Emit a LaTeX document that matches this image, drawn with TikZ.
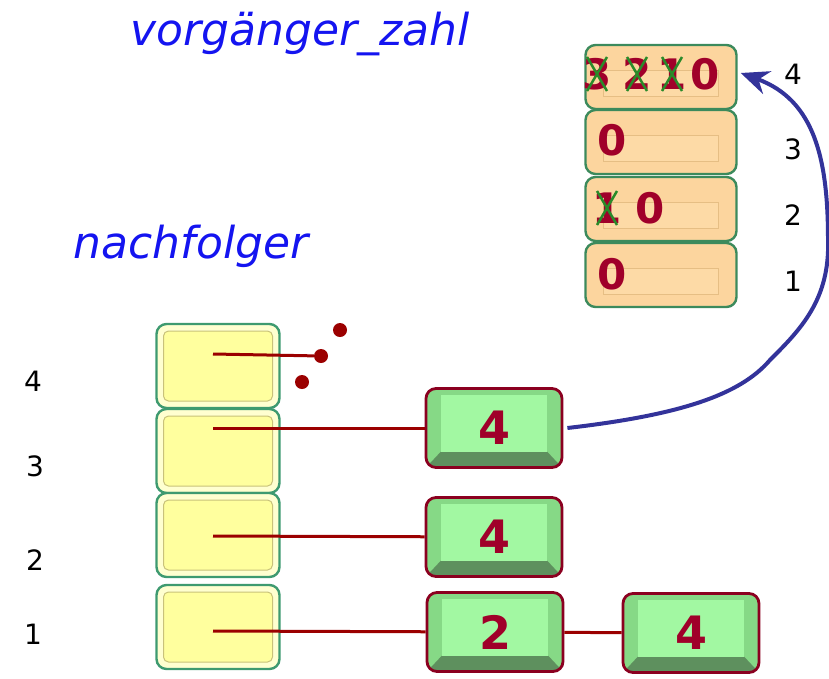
\documentclass[tikz,border=0pt]{standalone}
\usepackage{fontspec}
\setmainfont{DejaVu Sans}
\usetikzlibrary{arrows.meta}
\definecolor{titleblue}{HTML}{1414F0}
\definecolor{numred}{HTML}{A0002A}
\definecolor{linered}{HTML}{9B0000}
\definecolor{xgreen}{HTML}{2A8A2A}
\definecolor{arrowblue}{HTML}{33339A}
\definecolor{yedge}{HTML}{3E9A70}
\definecolor{yout}{HTML}{FFFFD0}
\definecolor{yin}{HTML}{FFFF9E}
\definecolor{yinline}{HTML}{C9C27A}
\definecolor{oedge}{HTML}{3C8A5C}
\definecolor{oout}{HTML}{FCD59E}
\definecolor{oin}{HTML}{FDDAA6}
\definecolor{oinline}{HTML}{E6BE84}
\definecolor{gedge}{HTML}{8B0020}
\definecolor{gside}{HTML}{86D986}
\definecolor{gdark}{HTML}{5E905E}
\definecolor{gin}{HTML}{A2F8A2}

\tikzset{
  ybox/.style={draw=yedge, line width=2.4pt, rounded corners=10pt, fill=yout,
    minimum width=123pt, minimum height=84pt, inner sep=0pt,
    path picture={\draw[yinline, fill=yin, rounded corners=5pt, line width=1pt]
      ([shift={(7,7)}]path picture bounding box.north west) rectangle
      ([shift={(-7,-7)}]path picture bounding box.south east);}},
  obox/.style={draw=oedge, line width=2.4pt, rounded corners=10pt, fill=oout,
    minimum width=151pt, minimum height=64pt, inner sep=0pt,
    path picture={\draw[oinline, fill=oin, line width=1pt, sharp corners]
      ([shift={(18,25)}]path picture bounding box.north west) rectangle
      ([shift={(-18,-13)}]path picture bounding box.south east);}},
  gbox/.style={draw=gedge, line width=2.8pt, rounded corners=10pt, fill=gside,
    minimum width=136pt, minimum height=79pt, inner sep=0pt, text=numred,
    font=\bfseries\fontsize{46}{46}\selectfont,
    path picture={
      \fill[gdark, sharp corners] (path picture bounding box.south west)
        -- ([shift={(15,-16)}]path picture bounding box.south west)
        -- ([shift={(-15,-16)}]path picture bounding box.south east)
        -- (path picture bounding box.south east) -- cycle;
      \fill[gin, sharp corners] ([shift={(15,6)}]path picture bounding box.north west) rectangle
        ([shift={(-15,-16)}]path picture bounding box.south east);}},
  ziffer/.style={inner sep=0pt, text=numred, font=\bfseries\fontsize{42}{42}\selectfont},
  idx/.style={inner sep=0pt, font=\fontsize{28}{28}\selectfont},
  titel/.style={anchor=base, text=titleblue, font=\itshape\fontsize{44}{44}\selectfont},
  link/.style={linered, line width=3pt},
  xline/.style={xgreen, line width=2.5pt},
  punkt/.style={circle, fill=linered, inner sep=0pt, minimum size=14pt}
}
\newcommand\kreuz[1]{\draw[xline] ([shift={(-10,-17)}]#1.center) -- ([shift={(10,17)}]#1.center)
  ([shift={(10,-17)}]#1.center) -- ([shift={(-10,17)}]#1.center);}

\begin{document}
\begin{tikzpicture}[x=1pt, y=-1pt]
\useasboundingbox (0,0) rectangle (829,678);
% Ueberschriften
\node[titel] (tv) at (300,45) {vorgänger\_zahl};
\node[titel] (tn) at (191,258) {nachfolger};
% vorgaenger_zahl
\node[obox] (v4) at (661,77) {};
\node[obox] (v3) at (661,142) {};
\node[obox] (v2) at (661,209) {};
\node[obox] (v1) at (661,275) {};
\node[ziffer] (v4a) at (597,74) {3};
\node[ziffer] (v4b) at (637,74) {2};
\node[ziffer] (v4c) at (672,74) {1};
\node[ziffer] (v4d) at (705,74) {0};
\node[ziffer] (v3a) at (612,140) {0};
\node[ziffer] (v2a) at (607,208) {1};
\node[ziffer] (v2b) at (650,208) {0};
\node[ziffer] (v1a) at (612,274) {0};
\kreuz{v4a} \kreuz{v4b} \kreuz{v4c} \kreuz{v2a}
\node[idx] (i4) at (793,74) {4};
\node[idx] (i3) at (793,149) {3};
\node[idx] (i2) at (793,215) {2};
\node[idx] (i1) at (793,281) {1};
% nachfolger
\node[ybox] (n4) at (218,366) {};
\node[ybox] (n3) at (218,451) {};
\node[ybox] (n2) at (218,535) {};
\node[ybox] (n1) at (218,627) {};
\node[idx] (j4) at (33,381) {4};
\node[idx] (j3) at (35,466) {3};
\node[idx] (j2) at (35,560) {2};
\node[idx] (j1) at (33,634) {1};
\coordinate (p4) at (213,354);
\coordinate (p3) at (213,428);
\coordinate (p2) at (213,536);
\coordinate (p1) at (213,631);
% Listen
\node[gbox] (e31) at (494,428) {4};
\node[gbox] (e21) at (494,537) {4};
\node[gbox] (e11) at (495,632) {2};
\node[gbox] (e12) at (691,633) {4};
\node[punkt] (d1) at (340,330) {};
\node[punkt] (d2) at (321,356) {};
\node[punkt] (d3) at (302,382) {};
\draw[link] (p4) -- (d2);
\draw[link] (p3) -- (e31);
\draw[link] (p2) -- (e21);
\draw[link] (p1) -- (e11);
\draw[link] (e11) -- (e12);
% Zaehler erhoehen
\draw[arrowblue, line width=4pt, -{Stealth[length=28pt, width=24pt]}]
  ([xshift=4pt]e31.east) .. controls (680,415) and (740,395) .. (770,360)
  .. controls (800,330) and (830,300) .. (828,240)
  .. controls (828,160) and (815,100) .. ([xshift=3pt, yshift=4pt]v4.east);
\end{tikzpicture}
\end{document}
